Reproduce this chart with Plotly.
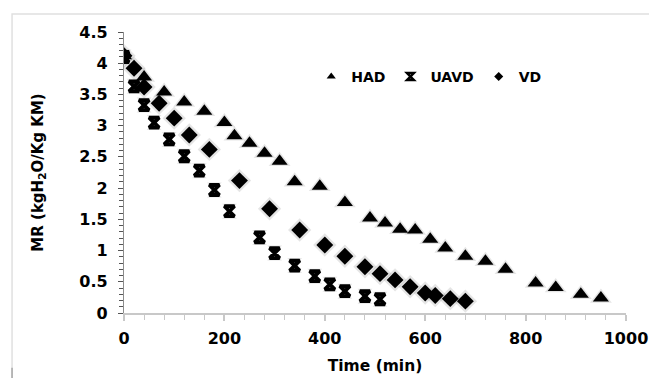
import plotly.graph_objects as go

# HAD data
had_time = [0, 40, 80, 120, 160, 200, 220, 250, 280, 310, 340, 390, 440, 490, 520,
            550, 580, 610, 640, 680, 720, 760, 820, 860, 910, 950]
had_mr = [4.12, 3.78, 3.54, 3.38, 3.23, 3.05, 2.84, 2.72, 2.56, 2.43, 2.10, 2.03, 1.77,
          1.52, 1.44, 1.34, 1.33, 1.18, 1.04, 0.91, 0.83, 0.70, 0.48, 0.41, 0.30, 0.24]

# UAVD data
uavd_time = [0, 20, 40, 60, 90, 120, 150, 180, 210, 270, 300, 340, 380, 410, 440, 480, 510]
uavd_mr = [4.10, 3.63, 3.33, 3.05, 2.78, 2.51, 2.28, 1.97, 1.63, 1.21, 0.96, 0.76, 0.59,
           0.46, 0.35, 0.27, 0.22]

# VD data
vd_time = [0, 20, 40, 70, 100, 130, 170, 230, 290, 350, 400, 440, 480, 510, 540, 570,
           600, 620, 650, 680]
vd_mr = [4.12, 3.92, 3.62, 3.36, 3.12, 2.85, 2.62, 2.12, 1.67, 1.33, 1.09, 0.91, 0.74,
         0.63, 0.53, 0.42, 0.32, 0.28, 0.23, 0.19]

series = [
    ("HAD", had_time, had_mr, "triangle-up", 14, 0, 8),
    ("UAVD", uavd_time, uavd_mr, "hourglass-open", 10, 3.8, 7),
    ("VD", vd_time, vd_mr, "diamond", 13, 0, 7),
]

fig = go.Figure()

# soft shadows
for name, xs, ys, sym, size, lw, lsize in series:
    fig.add_trace(go.Scatter(
        x=xs, y=ys, mode="markers", showlegend=False, hoverinfo="skip",
        marker=dict(symbol=sym.replace("-open", ""), size=size + 5,
                    color="rgba(0,0,0,0.10)", line=dict(width=0)),
    ))

for name, xs, ys, sym, size, lw, lsize in series:
    fig.add_trace(go.Scatter(
        x=xs, y=ys, mode="markers", name=name, showlegend=False,
        marker=dict(symbol=sym, size=size, color="black",
                    line=dict(width=lw, color="black")),
    ))

# legend entries (small symbols, as in the reference)
for name, xs, ys, sym, size, lw, lsize in series:
    fig.add_trace(go.Scatter(
        x=[None], y=[None], mode="markers", name=name, showlegend=True,
        marker=dict(symbol=sym, size=lsize, color="black",
                    line=dict(width=min(lw, 2.4), color="black")),
    ))

font_family = "DejaVu Sans"

fig.update_layout(
    width=649, height=370,
    margin=dict(l=116, r=31, t=24, b=65, autoexpand=False),
    paper_bgcolor="white", plot_bgcolor="white",
    font=dict(family=font_family, color="black"),
    showlegend=True,
    legend=dict(
        orientation="h", x=0.373, y=0.84, xanchor="left", yanchor="middle",
        font=dict(family=font_family, size=14, color="black", weight="bold"),
        itemwidth=30, tracegroupgap=0, bgcolor="rgba(0,0,0,0)",
        itemsizing="trace",
    ),
    xaxis=dict(
        range=[0, 1000], dtick=200, tick0=0, automargin=False,
        showgrid=False, zeroline=False,
        showline=True, linecolor="#c8c8c8", linewidth=1.5,
        ticks="outside", ticklen=6, tickcolor="#c8c8c8", tickwidth=1.5,
        minor=dict(dtick=40, ticks="outside", ticklen=5, tickcolor="#c8c8c8", tickwidth=1.2),
        ticklabelstandoff=4,
        tickfont=dict(family=font_family, size=16, color="black", weight="bold"),
        title=dict(text="Time (min)", standoff=13,
                   font=dict(family=font_family, size=15.5, color="black", weight="bold")),
    ),
    yaxis=dict(
        range=[0, 4.5], dtick=0.5, tick0=0, automargin=False,
        showgrid=False, zeroline=False,
        showline=True, linecolor="#8c8c8c", linewidth=1.2,
        ticks="outside", ticklen=5, tickcolor="#555555", tickwidth=1.2,
        minor=dict(dtick=0.1, ticks="outside", ticklen=4, tickcolor="#555555", tickwidth=1),
        ticklabelstandoff=7,
        tickfont=dict(family=font_family, size=16, color="black", weight="bold"),
        title=dict(text="MR (kgH<sub>2</sub>O/Kg KM)", standoff=32,
                   font=dict(family=font_family, size=15, color="black", weight="bold")),
    ),
    shapes=[
        dict(type="rect", xref="paper", yref="paper",
             x0=-0.223, x1=1.08, y0=-0.25, y1=1.064,
             line=dict(color="#e0e0e0", width=1.5), fillcolor="rgba(0,0,0,0)", layer="below"),
        dict(type="line", xref="paper", yref="paper",
             x0=-0.223, x1=-0.223, y0=-0.25, y1=-0.195,
             line=dict(color="#a8a8a8", width=1.5)),
    ],
)

fig.write_html("out.html")
